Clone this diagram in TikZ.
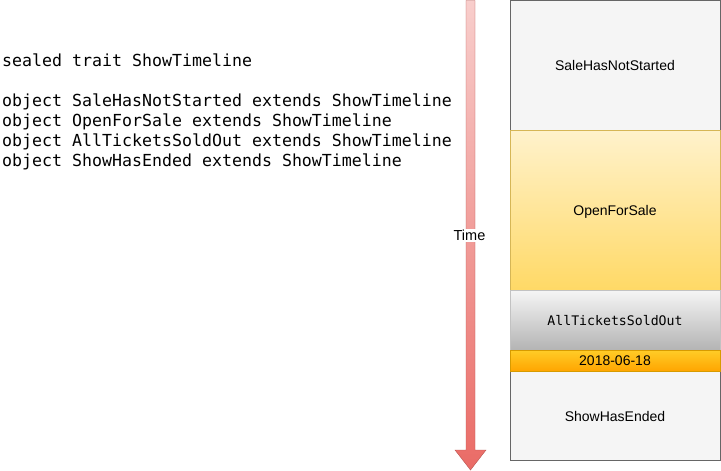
\documentclass[tikz,border=0pt]{standalone}
\usepackage{fontspec}
\setmainfont{Liberation Sans}
\newfontfamily\codefont{DejaVu Sans Mono}
\usetikzlibrary{positioning}
\definecolor{phasegray}{HTML}{F5F5F5}
\definecolor{phaseline}{HTML}{666666}
\definecolor{saletop}{HTML}{FFF2CC}
\definecolor{salebot}{HTML}{FFD966}
\definecolor{saleline}{HTML}{D6B656}
\definecolor{soldbot}{HTML}{B3B3B3}
\definecolor{datetop}{HTML}{FFCD28}
\definecolor{datebot}{HTML}{FFA500}
\definecolor{dateline}{HTML}{D79B00}
\definecolor{timetop}{HTML}{F8CECC}
\definecolor{timebot}{HTML}{EA6B66}
\definecolor{timeline}{HTML}{B85450}
\tikzset{
  code/.style={anchor=base west, inner sep=0pt, font=\codefont\fontsize{16.6}{20}\selectfont},
  phase/.style={minimum width=210pt, inner sep=0pt, font=\fontsize{14}{16}\selectfont},
  note/.style={font=\fontsize{14.5}{16}\selectfont, fill=white, inner sep=1pt}
}
\begin{document}
\begin{tikzpicture}[x=1pt,y=-1pt]
  \useasboundingbox (0,0) rectangle (721,471);
  % time arrow
  \draw[timeline, top color=timetop, bottom color=timebot]
    (466,0.5)--(475,0.5)--(475,450)--(486,450)--(470.5,470)--(455,450)--(466,450)--cycle;
  \node[note] (time) at (469.5,235.5) {Time};
  % phases
  \draw[phaseline, fill=phasegray] (510,0.5) rectangle (720,460);
  \node[phase] (notstarted) at (615,65.5) {SaleHasNotStarted};
  \node[phase, minimum height=160pt, draw=saleline, top color=saletop, bottom color=salebot] (open) at (615,210) {};
  \node[phase] (openlabel) at (615,212) {OpenForSale};
  \node[phase, minimum height=60pt, draw=phaseline!40, top color=phasegray, bottom color=soldbot, font=\codefont\fontsize{13.2}{15}\selectfont] (soldout) at (615,320.5) {AllTicketsSoldOut};
  \node[phase, minimum height=21pt, draw=dateline, top color=datetop, bottom color=datebot] (date) at (615,360.5) {2018-06-18};
  \node[phase] (ended) at (615,416) {ShowHasEnded};
  % scala code
  \node[code] (trait) at (2,66.5) {sealed trait ShowTimeline};
  \foreach \obj [count=\i] in {SaleHasNotStarted,OpenForSale,AllTicketsSoldOut,ShowHasEnded}
    \node[code] (obj\i) at (2,{86.5+20*\i}) {object \obj\ extends ShowTimeline};
\end{tikzpicture}
\end{document}
